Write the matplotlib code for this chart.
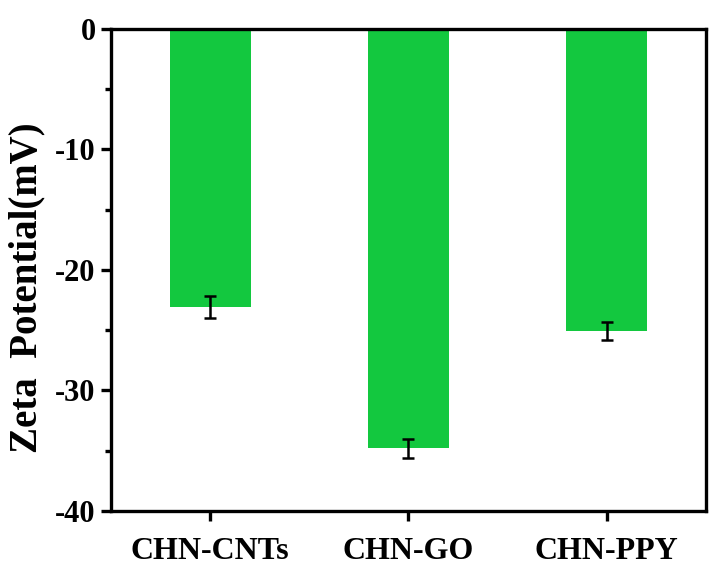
import matplotlib
matplotlib.use('Agg')
import matplotlib.pyplot as plt
from matplotlib.ticker import MultipleLocator

plt.rcParams['font.family'] = ['Liberation Serif', 'DejaVu Serif']
plt.rcParams['font.weight'] = 'bold'
plt.rcParams['axes.unicode_minus'] = False

samples = ['CHN-CNTs', 'CHN-GO', 'CHN-PPY']
zeta = [-23.1, -34.8, -25.1]
zeta_err = [0.9, 0.8, 0.75]

fig = plt.figure(figsize=(7.13, 5.65), dpi=100)
ax = fig.add_axes([0.1557, 0.0956, 0.8343, 0.8531])

x = range(len(samples))
ax.bar(x, zeta, width=0.41, color='#13c83f',
       yerr=zeta_err, capsize=4, error_kw=dict(elinewidth=1.8, capthick=1.8, ecolor='black'))

ax.set_xlim(-0.5, 2.5)
ax.set_ylim(-40, 0)
ax.set_xticks(list(x))
ax.set_xticklabels(samples, fontsize=23, fontweight='bold')
ax.yaxis.set_major_locator(MultipleLocator(10))
ax.yaxis.set_minor_locator(MultipleLocator(5))
for lab in ax.get_yticklabels():
    lab.set_fontsize(22)
    lab.set_fontweight('bold')
ax.set_ylabel('Zeta  Potential(mV)', fontsize=28, fontweight='bold')
ax.yaxis.set_label_coords(-0.111, 0.463)

for s in ax.spines.values():
    s.set_linewidth(2.4)
ax.tick_params(axis='both', which='major', direction='out', length=7, width=2.4, pad=4)
ax.tick_params(axis='y', which='minor', direction='out', length=4, width=2.4)
ax.tick_params(axis='x', which='major', pad=12)

plt.savefig('out.png', dpi=100)
